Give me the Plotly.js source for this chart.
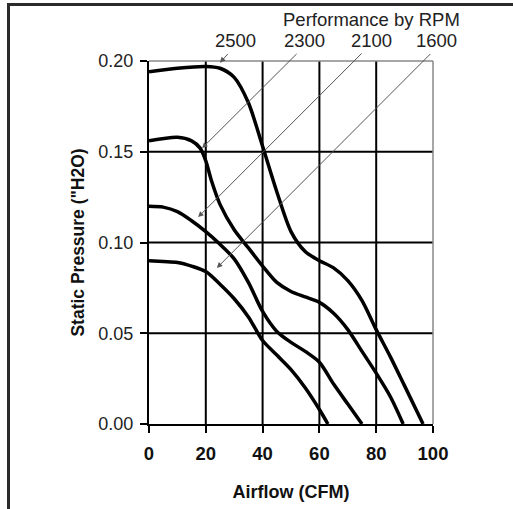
<!DOCTYPE html>
<html>
<head>
<meta charset="utf-8">
<script src="https://cdn.plot.ly/plotly-3.0.1.min.js"></script>
<style>
  html, body { margin: 0; padding: 0; background: #fff; overflow: hidden; width: 513px; height: 509px; }
  #chart { position: absolute; left: 0; top: 0; width: 513px; height: 509px; }
  .edge { position: absolute; background: #2b2b2b; z-index: 1000; }
  #edgeTop { left: 7px; top: 3px; width: 506px; height: 3px; }
  #edgeLeft { left: 7px; top: 3px; width: 3px; height: 506px; }
</style>
</head>
<body>
<div id="chart"></div>
<div class="edge" id="edgeTop"></div>
<div class="edge" id="edgeLeft"></div>
<script>
// RPM curves: airflow (CFM) vs static pressure ("H2O)
const rpmLabels = ['2500', '2300', '2100', '1600'];

const cfm2500 = [0, 10, 20, 25, 30, 35, 40, 45, 50, 55, 60, 65, 70, 75, 80, 85, 90, 96.5];
const sp2500  = [0.194, 0.196, 0.197, 0.196, 0.191, 0.177, 0.153, 0.128, 0.106, 0.095, 0.090, 0.086, 0.079, 0.068, 0.052, 0.037, 0.021, 0.0];

const cfm2300 = [0, 10, 15, 18, 20, 22, 25, 30, 35, 40, 45, 50, 55, 60, 65, 70, 75, 80, 85, 89.5];
const sp2300  = [0.156, 0.158, 0.156, 0.152, 0.145, 0.134, 0.121, 0.107, 0.097, 0.087, 0.078, 0.073, 0.070, 0.067, 0.061, 0.052, 0.040, 0.028, 0.015, 0.0];

const cfm2100 = [0, 5, 10, 15, 20, 25, 30, 35, 40, 45, 50, 55, 60, 65, 70, 75];
const sp2100  = [0.120, 0.1195, 0.117, 0.112, 0.106, 0.099, 0.091, 0.078, 0.062, 0.051, 0.045, 0.040, 0.034, 0.022, 0.011, 0.0];

const cfm1600 = [0, 5, 10, 15, 20, 25, 30, 35, 40, 45, 50, 55, 60, 63];
const sp1600  = [0.090, 0.0895, 0.089, 0.087, 0.084, 0.077, 0.069, 0.059, 0.046, 0.038, 0.030, 0.020, 0.008, 0.0];

// label positions (fraction of plot width) and pointer arrows (tip / tail in data units)
const labelX   = [0.303, 0.549, 0.785, 1.012];
const titleX   = 0.782;
const arrowTipX  = [25.0, 18.7, 17.3, 23.9];
const arrowTipY  = [0.199, 0.152, 0.114, 0.086];
const arrowTailX = [28.2, 52.5, 75.4, 99.6];
const arrowTailY = [0.2047, 0.2047, 0.2050, 0.2047];

const xTicks = [0, 20, 40, 60, 80, 100];
const yTicks = [0, 0.05, 0.10, 0.15, 0.20];
const yTickText = ['0.00', '0.05', '0.10', '0.15', '0.20'];
const xGrid = [20, 40, 60, 80];
const yGrid = [0.05, 0.10, 0.15];

const series = [[cfm2500, sp2500], [cfm2300, sp2300], [cfm2100, sp2100], [cfm1600, sp1600]];
const traces = series.map((s, i) => ({
  x: s[0], y: s[1], type: 'scatter', mode: 'lines', name: rpmLabels[i],
  line: { color: '#000', width: 3.5, shape: 'spline', smoothing: 0.8 },
  hoverinfo: 'skip', cliponaxis: false
}));

const shapes = [];
xGrid.forEach(v => shapes.push({ type: 'line', xref: 'x', yref: 'paper', x0: v, x1: v, y0: 0, y1: 1,
  line: { color: '#000', width: 2 }, layer: 'below' }));
yGrid.forEach(v => shapes.push({ type: 'line', xref: 'paper', yref: 'y', x0: 0, x1: 1, y0: v, y1: v,
  line: { color: '#000', width: 2 }, layer: 'below' }));
// top and right border of the plot area (gray)
shapes.push({ type: 'line', xref: 'paper', yref: 'paper', x0: 0, x1: 1, y0: 1, y1: 1, line: { color: '#888', width: 1.5 }, layer: 'below' });
shapes.push({ type: 'line', xref: 'paper', yref: 'paper', x0: 1, x1: 1, y0: 0, y1: 1, line: { color: '#888', width: 1.5 }, layer: 'below' });

const annotations = [];
annotations.push({ text: 'Performance by RPM', xref: 'paper', yref: 'paper', x: titleX, y: 1.115,
  showarrow: false, xanchor: 'center', yanchor: 'middle', font: { size: 18.5, color: '#222' } });
rpmLabels.forEach((lab, i) => {
  annotations.push({ text: lab, xref: 'paper', yref: 'paper', x: labelX[i], y: 1.057,
    showarrow: false, xanchor: 'center', yanchor: 'middle', font: { size: 18.5, color: '#222' } });
  annotations.push({ text: '', xref: 'x', yref: 'y', x: arrowTipX[i], y: arrowTipY[i],
    axref: 'x', ayref: 'y', ax: arrowTailX[i], ay: arrowTailY[i], showarrow: true,
    arrowhead: 2, arrowsize: 1.1, arrowwidth: 1, arrowcolor: '#555', standoff: 0 });
});

const layout = {
  width: 513, height: 509,
  margin: { l: 149, r: 80, t: 61, b: 85, pad: 0 },
  paper_bgcolor: '#fff', plot_bgcolor: '#fff',
  showlegend: false,
  font: { family: 'Arial, "Liberation Sans", sans-serif', color: '#222' },
  xaxis: {
    range: [0, 100], tickvals: xTicks, ticktext: xTicks.map(String),
    showgrid: false, zeroline: false, showline: true, linecolor: '#000', linewidth: 2,
    ticks: 'outside', ticklen: 7, tickwidth: 2, tickcolor: '#000', ticklabelstandoff: 5,
    tickfont: { size: 18.5, color: '#111', weight: 'bold' },
    title: { text: 'Airflow (CFM)', font: { size: 18, color: '#111', weight: 'bold' }, standoff: 22 }
  },
  yaxis: {
    range: [0, 0.2], tickvals: yTicks, ticktext: yTickText,
    showgrid: false, zeroline: false, showline: true, linecolor: '#000', linewidth: 2,
    ticks: 'outside', ticklen: 7, tickwidth: 2, tickcolor: '#000', ticklabelstandoff: 3,
    tickfont: { size: 18, color: '#222' },
    title: { text: 'Static Pressure ("H2O)', font: { size: 17.5, color: '#111', weight: 'bold' }, standoff: 9 }
  },
  shapes: shapes,
  annotations: annotations
};

Plotly.newPlot('chart', traces, layout, { displayModeBar: false, staticPlot: true });
</script>
</body>
</html>
